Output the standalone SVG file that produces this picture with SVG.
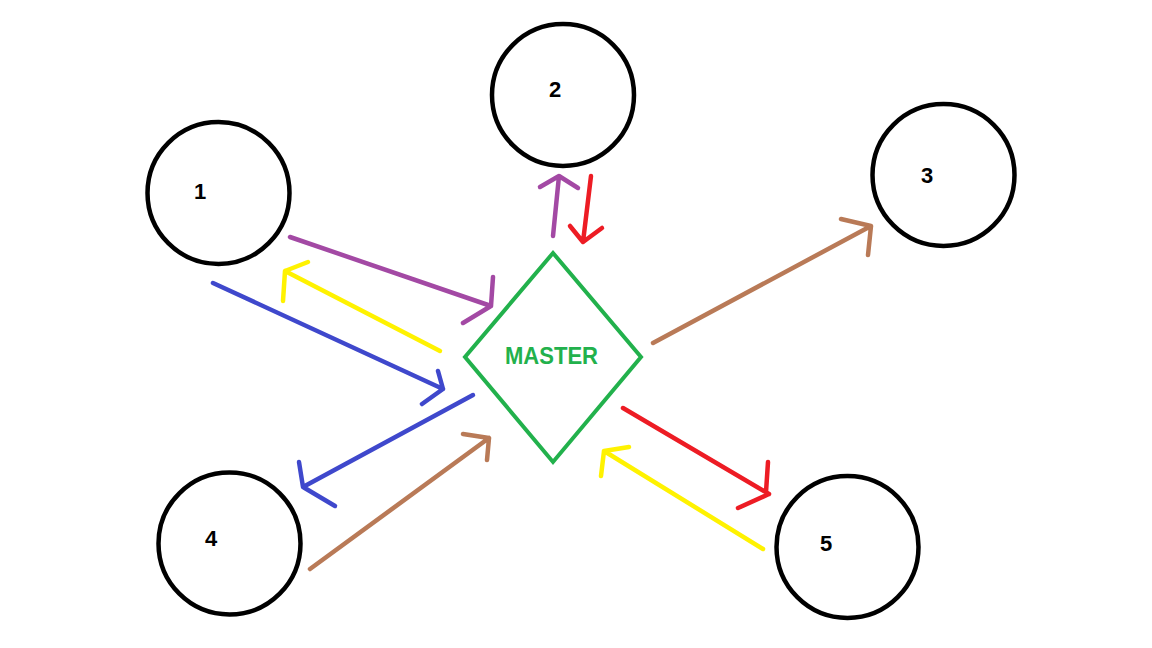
<svg xmlns="http://www.w3.org/2000/svg" width="1152" height="648" viewBox="0 0 1152 648">
<style>
.node circle{fill:none;stroke:#000;stroke-width:4.5}
.lbl{font-family:"Liberation Sans",Arial,sans-serif;font-weight:bold;font-size:22px;fill:#000;text-anchor:middle}
.c path{fill:none;stroke-width:4.5;stroke-linecap:round;stroke-linejoin:round}
.pu{stroke:#a349a4}.ye{stroke:#fff200}.bl{stroke:#3f48cc}.br{stroke:#b97a57}.re{stroke:#ed1c24}
</style>
<rect width="1152" height="648" fill="#fff"/>
<g id="node1" class="node"><circle cx="218.5" cy="193" r="71"/><text class="lbl" x="200" y="199">1</text></g>
<g id="node2" class="node"><circle cx="563" cy="95" r="71"/><text class="lbl" x="555" y="97">2</text></g>
<g id="node3" class="node"><circle cx="943.5" cy="175" r="71"/><text class="lbl" x="927" y="183">3</text></g>
<g id="node4" class="node"><circle cx="229.5" cy="543.5" r="71"/><text class="lbl" x="211" y="546">4</text></g>
<g id="node5" class="node"><circle cx="847.5" cy="547" r="71"/><text class="lbl" x="826" y="551">5</text></g>
<g id="master"><polygon points="553,253 641,357 553,462 465,357" fill="none" stroke="#22b14c" stroke-width="4"/><text x="551.5" y="364" font-family="Liberation Sans,Arial,sans-serif" font-weight="bold" font-size="23" fill="#22b14c" text-anchor="middle" textLength="93" lengthAdjust="spacingAndGlyphs">MASTER</text></g>
<g id="connectors" class="c">
<path class="pu" d="M290,237 L491,306 M493,277 L491,306 L463,323"/>
<path class="ye" d="M440,351 L285,271 M308,262 L285,271 L283,301"/>
<path class="bl" d="M213,283 L443,389 M438,371 L443,389 L422,404"/>
<path class="bl" d="M473,395 L303,487 M299,462 L303,487 L335,506"/>
<path class="br" d="M310,569 L489,438 M463,434 L489,438 L487,460"/>
<path class="re" d="M623,408 L769,494 M768,462 L766,492 M769,494 L738,508"/>
<path class="ye" d="M763,549 L604,451 M629,447 L604,451 L601,476"/>
<path class="pu" d="M553,236 L559,176 M540,187 L559,176 L578,188"/>
<path class="re" d="M591,176 L583,242 M570,226 L583,242 L602,228"/>
<path class="br" d="M653,343 L871,226 M841,219 L871,226 L868,255"/>
</g>
</svg>
